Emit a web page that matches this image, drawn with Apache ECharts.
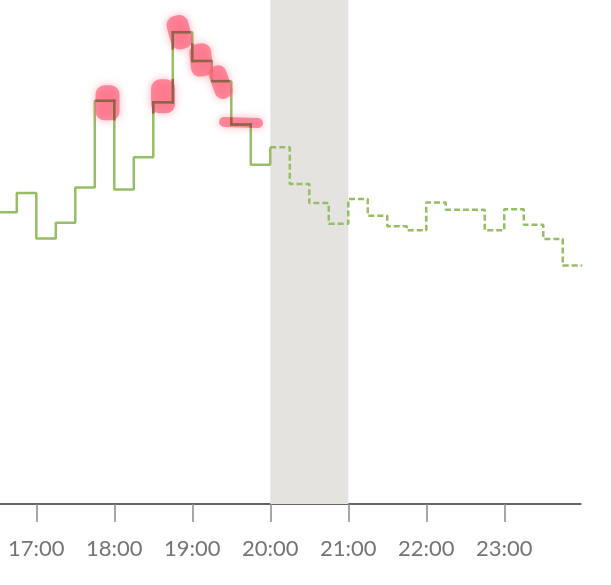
<!DOCTYPE html>
<html><head><meta charset="utf-8">
<script src="https://cdn.jsdelivr.net/npm/echarts@6/dist/echarts.min.js"></script>
<style>html,body{margin:0;padding:0;background:#fff}#c{width:611px;height:585px}</style>
</head><body><div id="c"></div>
<script>
// ---- data ----
const slotTimes = ["16:30","16:45","17:00","17:15","17:30","17:45","18:00","18:15","18:30","18:45",
  "19:00","19:15","19:30","19:45","20:00","20:15","20:30","20:45","21:00","21:15",
  "21:30","21:45","22:00","22:15","22:30","22:45","23:00","23:15","23:30","23:45"];
const slotValues = [57.9,61.7,52.7,55.8,62.8,80.0,62.4,68.8,79.7,93.6,
  87.9,83.9,75.3,67.3,70.8,63.5,59.7,55.6,60.5,57.2,
  55.1,54.3,59.8,58.4,58.4,54.3,58.5,55.4,52.6,47.3];
const lastSlotEnd = "24:00";
const forecastFrom = "20:00";
const bandRange = ["20:00","21:00"];
const highlightSlots = ["17:45","18:30","18:45","19:00","19:15","19:30"];
const hourTicks = [17,18,19,20,21,22,23];

// ---- styles (px) ----
const HL_STYLE = [
  {dx:3, dy:2, w:24, h:35, r:9, rot:0},
  {dx:0, dy:-6, w:24, h:34, r:9, rot:0},
  {dx:-3, dy:0, w:22, h:34, r:9, rot:15},
  {dx:-1, dy:-1, w:22, h:33, r:9, rot:6},
  {dx:-1, dy:1, w:18, h:34, r:8, rot:20},
  {dx:0, dy:-2, w:44, h:10, r:5, rot:-2}
];
const LINE_COLOR = '#96be66';
const HL_COLOR = 'rgba(250,95,120,0.68)';
const HL_LINE = '#8e6448';

const toH = s => { const [h,m] = s.split(':').map(Number); return h + m/60; };
const slotH = slotTimes.map(toH);
const endH = toH(lastSlotEnd);
const fIdx = slotTimes.indexOf(forecastFrom);

const solid = [];
for (let i = 0; i < fIdx; i++) solid.push([slotH[i], slotValues[i]]);
solid.push([slotH[fIdx], slotValues[fIdx]]);
const dashed = [];
for (let i = fIdx; i < slotH.length; i++) dashed.push([slotH[i], slotValues[i]]);
dashed.push([endH, slotValues[slotValues.length-1]]);

const hlData = highlightSlots.map(s => { const i = slotTimes.indexOf(s); return [slotH[i], slotValues[i], slotH[i+1] ?? endH]; });

function clipSeg(p, q, box) {
  let x0 = Math.min(p[0], q[0]), x1 = Math.max(p[0], q[0]);
  let y0 = Math.min(p[1], q[1]), y1 = Math.max(p[1], q[1]);
  x0 = Math.max(x0, box[0]); x1 = Math.min(x1, box[2]);
  y0 = Math.max(y0, box[1]); y1 = Math.min(y1, box[3]);
  if (x0 > x1 || y0 > y1) return null;
  return [[x0, y0], [x1, y1]];
}

const chart = echarts.init(document.getElementById('c'), null, {renderer:'canvas'});
chart.setOption({
  animation: false,
  backgroundColor: '#fff',
  grid: {left: -2.7, right: 30.3, top: 0, bottom: 81, outerBoundsMode: 'none', containLabel: false},
  xAxis: {
    type: 'value', min: 16.5, max: 23.98,
    splitLine: {show: false},
    axisLine: {lineStyle: {color: '#666', width: 2}},
    axisTick: {customValues: hourTicks, length: 18, lineStyle: {color: '#8a8a8a', width: 1.5}},
    axisLabel: {customValues: hourTicks, formatter: v => v + ':00', margin: 34,
      fontFamily: 'Lato', fontSize: 22, color: '#747474'}
  },
  yAxis: {type: 'value', min: 0, max: 100, show: false},
  series: [
    {type: 'line', data: [], z: -1, silent: true,
      markArea: {silent: true, itemStyle: {color: '#e4e3e0'},
        data: [[{xAxis: toH(bandRange[0])}, {xAxis: toH(bandRange[1])}]]}},
    {type: 'line', data: solid, step: 'end', showSymbol: false, clip: false,
      lineStyle: {color: LINE_COLOR, width: 2.5}},
    {type: 'line', data: dashed, step: 'end', showSymbol: false, clip: false,
      lineStyle: {color: LINE_COLOR, width: 2.5, type: [6,3]}},
    {type: 'custom', data: hlData, z: 5, clip: false, silent: true,
      renderItem: (params, api) => {
        const s = HL_STYLE[params.dataIndex];
        const a = api.coord([api.value(0), api.value(1)]);
        const b = api.coord([api.value(2), api.value(1)]);
        const cx = (a[0] + b[0]) / 2 + s.dx, cy = a[1] + s.dy;
        const children = [{
          type: 'rect',
          x: cx, y: cy, rotation: s.rot * Math.PI / 180,
          shape: {x: -s.w/2, y: -s.h/2, width: s.w, height: s.h, r: s.r},
          style: {fill: HL_COLOR, shadowBlur: 8, shadowColor: HL_COLOR}
        }];
        const box = [cx - s.w/2 + 1, cy - s.h/2 + 1, cx + s.w/2 - 1, cy + s.h/2 - 1];
        const pts = [];
        for (let i = 0; i < slotH.length; i++) {
          const x1 = slotH[i + 1] ?? endH;
          pts.push(api.coord([slotH[i], slotValues[i]]));
          pts.push(api.coord([x1, slotValues[i]]));
        }
        for (let i = 0; i < pts.length - 1; i++) {
          const c = clipSeg(pts[i], pts[i+1], box);
          if (c) children.push({type: 'line', shape: {x1: c[0][0], y1: c[0][1], x2: c[1][0], y2: c[1][1]},
            style: {stroke: HL_LINE, lineWidth: 2.5, lineCap: 'square'}});
        }
        return {type: 'group', children};
      }}
  ]
});
</script></body></html>
